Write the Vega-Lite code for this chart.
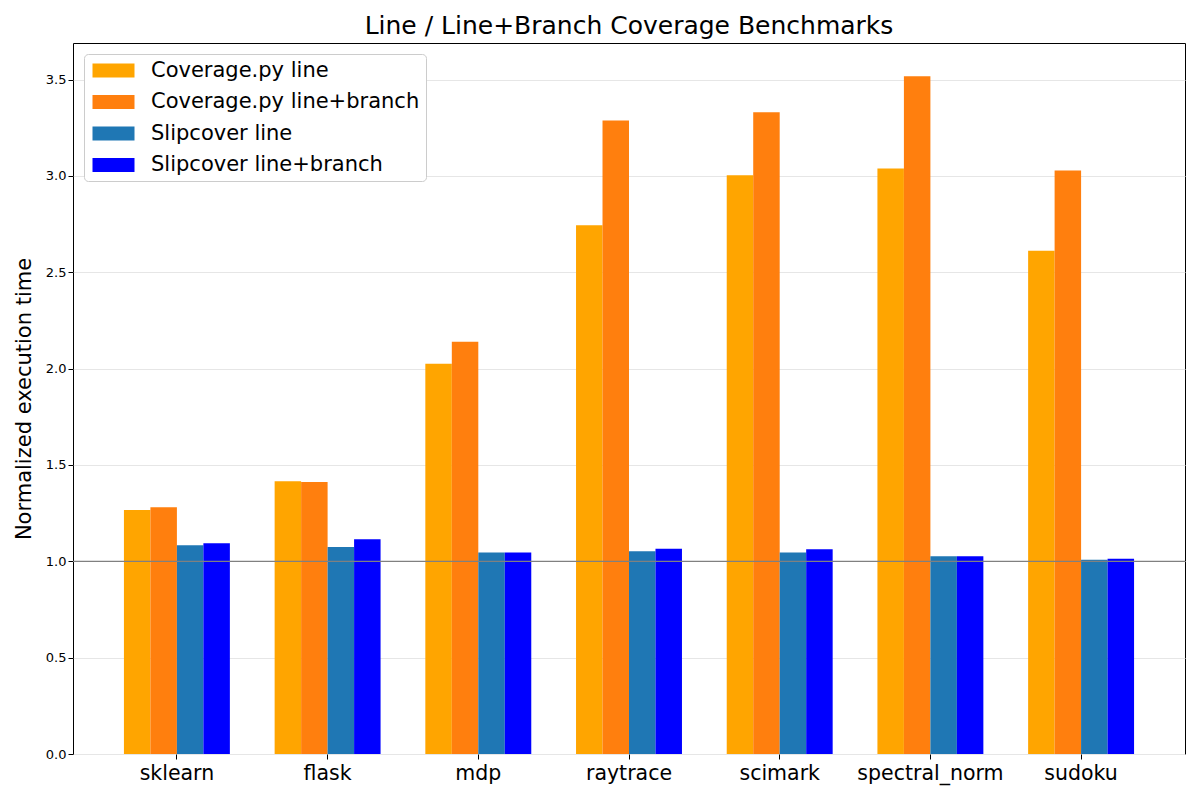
{
  "$schema": "https://vega.github.io/schema/vega-lite/v6.json",
  "width": 1112,
  "height": 711,
  "autosize": {"type": "none"},
  "padding": {"left": 73, "top": 43, "right": 15, "bottom": 46},
  "background": "white",
  "config": {
    "font": "DejaVu Sans",
    "view": {"stroke": "black", "strokeWidth": 1},
    "axis": {"labelFont": "DejaVu Sans", "titleFont": "DejaVu Sans", "labelColor": "black", "titleColor": "black", "domainColor": "black", "tickColor": "black", "titleFontWeight": "normal"}
  },
  "title": {"text": "Line / Line+Branch Coverage Benchmarks", "fontSize": 25, "fontWeight": "normal", "font": "DejaVu Sans", "color": "black", "offset": 4},
  "datasets": {
    "bars": [
      {"benchmark": "sklearn", "series": "Coverage.py line", "value": 1.266},
      {"benchmark": "sklearn", "series": "Coverage.py line+branch", "value": 1.281},
      {"benchmark": "sklearn", "series": "Slipcover line", "value": 1.084},
      {"benchmark": "sklearn", "series": "Slipcover line+branch", "value": 1.094},
      {"benchmark": "flask", "series": "Coverage.py line", "value": 1.416},
      {"benchmark": "flask", "series": "Coverage.py line+branch", "value": 1.411},
      {"benchmark": "flask", "series": "Slipcover line", "value": 1.074},
      {"benchmark": "flask", "series": "Slipcover line+branch", "value": 1.115},
      {"benchmark": "mdp", "series": "Coverage.py line", "value": 2.025},
      {"benchmark": "mdp", "series": "Coverage.py line+branch", "value": 2.14},
      {"benchmark": "mdp", "series": "Slipcover line", "value": 1.046},
      {"benchmark": "mdp", "series": "Slipcover line+branch", "value": 1.046},
      {"benchmark": "raytrace", "series": "Coverage.py line", "value": 2.744},
      {"benchmark": "raytrace", "series": "Coverage.py line+branch", "value": 3.288},
      {"benchmark": "raytrace", "series": "Slipcover line", "value": 1.052},
      {"benchmark": "raytrace", "series": "Slipcover line+branch", "value": 1.065},
      {"benchmark": "scimark", "series": "Coverage.py line", "value": 3.003},
      {"benchmark": "scimark", "series": "Coverage.py line+branch", "value": 3.33},
      {"benchmark": "scimark", "series": "Slipcover line", "value": 1.046},
      {"benchmark": "scimark", "series": "Slipcover line+branch", "value": 1.062},
      {"benchmark": "spectral_norm", "series": "Coverage.py line", "value": 3.039},
      {"benchmark": "spectral_norm", "series": "Coverage.py line+branch", "value": 3.517},
      {"benchmark": "spectral_norm", "series": "Slipcover line", "value": 1.026},
      {"benchmark": "spectral_norm", "series": "Slipcover line+branch", "value": 1.026},
      {"benchmark": "sudoku", "series": "Coverage.py line", "value": 2.612},
      {"benchmark": "sudoku", "series": "Coverage.py line+branch", "value": 3.028},
      {"benchmark": "sudoku", "series": "Slipcover line", "value": 1.008},
      {"benchmark": "sudoku", "series": "Slipcover line+branch", "value": 1.013}
    ],
    "ref": [{"y": 1}]
  },
  "layer": [
    {
      "data": {"name": "bars"},
      "mark": {"type": "bar"},
      "encoding": {
        "x": {
          "field": "benchmark", "type": "nominal", "sort": null,
          "scale": {"paddingInner": 0.297, "paddingOuter": 0.338},
          "axis": {"title": null, "labelAngle": 0, "labelFontSize": 20.5, "labelPadding": 4, "tickSize": 5, "domain": false}
        },
        "xOffset": {"field": "series", "type": "nominal", "sort": null, "scale": {"paddingInner": 0, "paddingOuter": 0}},
        "y": {
          "field": "value", "type": "quantitative",
          "scale": {"domain": [0, 3.69], "nice": false, "zero": true},
          "axis": {"title": "Normalized execution time", "titleFontSize": 21, "titlePadding": 11, "labelFontSize": 13, "format": ".1f", "values": [0, 0.5, 1, 1.5, 2, 2.5, 3, 3.5], "grid": true, "gridColor": "#e6e6e6", "gridWidth": 1, "tickSize": 5, "domain": false}
        },
        "color": {
          "field": "series", "type": "nominal", "sort": null,
          "scale": {"domain": ["Coverage.py line", "Coverage.py line+branch", "Slipcover line", "Slipcover line+branch"], "range": ["#ffa500", "#ff7f0e", "#1f77b4", "#0000ff"]},
          "legend": {
            "title": null, "orient": "top-left", "offset": 11,
            "labelFontSize": 21, "labelFont": "DejaVu Sans", "labelColor": "black", "labelLimit": 0,
            "symbolType": "M-0.8,-0.7H3.4V0.7H-0.8Z", "symbolSize": 400, "symbolStrokeWidth": 0, "symbolOpacity": 1,
            "rowPadding": 9.5, "labelOffset": 40,
            "fillColor": "white", "strokeColor": "#cccccc", "cornerRadius": 4, "padding": 6
          }
        }
      }
    },
    {
      "data": {"name": "ref"},
      "mark": {"type": "rule", "color": "#808080", "strokeWidth": 1.2},
      "encoding": {"y": {"field": "y", "type": "quantitative"}}
    }
  ]
}
